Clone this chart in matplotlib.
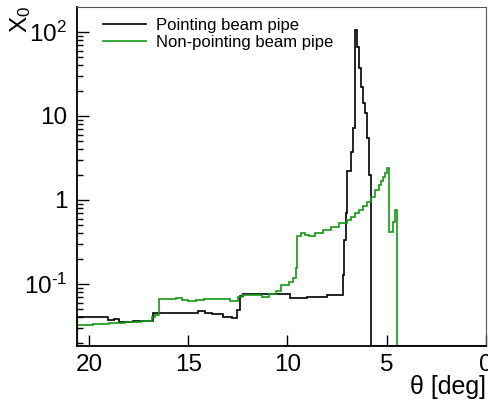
import numpy as np
import matplotlib
matplotlib.use("Agg")
import matplotlib.pyplot as plt
from matplotlib.ticker import FixedLocator, FuncFormatter, LogLocator, NullFormatter, NullLocator

plt.rcParams['font.family'] = ['Liberation Sans', 'DejaVu Sans']
plt.rcParams['mathtext.fontset'] = 'custom'
plt.rcParams['mathtext.rm'] = 'Liberation Sans'
plt.rcParams['mathtext.it'] = 'Liberation Sans:italic'
plt.rcParams['mathtext.bf'] = 'Liberation Sans:bold'

# ---- data (theta in degrees, descending; X0 per bin) ----
pointing_edges = [20.6, 19.35, 19.05, 18.75, 18.5, 17.8, 17.2, 16.75, 15.5, 14.5,
                  14.15, 13.8, 13.25, 12.8, 12.54, 12.39, 12.25, 9.87, 9.0, 8.0,
                  7.22, 7.15, 7.06, 6.99, 6.82, 6.72, 6.61, 6.48, 6.38, 6.30,
                  6.21, 6.10, 6.01, 5.89, 5.81, 0.0]
pointing_x0 = [0.040, 0.0408, 0.0373, 0.0387, 0.0356, 0.0360, 0.0368, 0.0448, 0.0458,
               0.0477, 0.0448, 0.0440, 0.0408, 0.0398, 0.049, 0.072, 0.0754, 0.0685,
               0.0705, 0.0735, 0.128, 0.334, 0.70, 2.2, 3.76, 7.14, 105.7, 66.8, 37.0,
               22.3, 14.2, 10.8, 5.43, 1.98, 0.0]

nonpointing_edges = [20.6, 19.8, 19.0, 18.2, 17.4, 16.8, 16.65, 16.47, 15.6, 15.3,
                     15.0, 14.6, 14.2, 13.9, 13.1, 12.9, 12.5, 12.3, 11.3, 10.95,
                     10.6, 10.35, 9.9, 9.71, 9.59, 9.51, 9.3, 9.1, 8.9, 8.6,
                     8.2, 7.8, 7.4, 7.0, 6.8, 6.6, 6.4, 6.2, 6.0, 5.8,
                     5.6, 5.4, 5.3, 5.2, 5.1, 5.0, 4.87, 4.67, 4.57, 4.49, 0.0]
nonpointing_x0 = [0.0328, 0.0336, 0.0344, 0.0354, 0.0366, 0.040, 0.043, 0.066, 0.0687,
                  0.064, 0.062, 0.064, 0.066, 0.067, 0.066, 0.063, 0.070, 0.0741,
                  0.0706, 0.0761, 0.0834, 0.0973, 0.1065, 0.118, 0.155, 0.37, 0.40,
                  0.385, 0.375, 0.405, 0.44, 0.48, 0.53, 0.58, 0.63, 0.70, 0.77,
                  0.85, 0.95, 1.10, 1.30, 1.50, 1.68, 1.89, 2.12, 2.38, 0.42, 0.55,
                  0.77, 0.0]

series_labels = ["Pointing beam pipe", "Non-pointing beam pipe"]
x_ticks = [0, 5, 10, 15, 20]
y_ticks = [0.1, 1, 10, 100]
y_tick_labels = [r"$10^{\text{-}1}$", "1", "10", r"$10^{2}$"]

XMAX, XMIN = 20.6, 0.0
YMIN, YMAX = 0.0183, 198.0

assert len(pointing_edges) == len(pointing_x0) + 1
assert len(nonpointing_edges) == len(nonpointing_x0) + 1

fig = plt.figure(figsize=(4.89, 4.05), dpi=100)
ax = fig.add_axes([77 / 489, 1 - 346 / 405, (486 - 77) / 489, (346 - 7) / 405])

GREEN = '#179817'
for edges, vals, col, lab in [(pointing_edges, pointing_x0, 'black', series_labels[0]),
                              (nonpointing_edges, nonpointing_x0, GREEN, series_labels[1])]:
    e = np.array(edges[::-1], dtype=float)
    v = np.array(vals[::-1], dtype=float)
    v = np.where(v > 0, v, YMIN)
    ax.stairs(v, e, baseline=YMIN, color=col, lw=1.2, label=lab)

ax.set_yscale('log')
ax.set_xlim(XMAX, XMIN)
ax.set_ylim(YMIN, YMAX)

ax.xaxis.set_major_locator(FixedLocator(x_ticks))
ax.xaxis.set_minor_locator(NullLocator())
ax.yaxis.set_major_locator(FixedLocator(y_ticks))
ax.yaxis.set_major_formatter(FuncFormatter(lambda v, p: y_tick_labels[y_ticks.index(v)] if v in y_ticks else ""))
ax.yaxis.set_minor_locator(LogLocator(base=10, subs=np.arange(2, 10)))
ax.yaxis.set_minor_formatter(NullFormatter())

ax.tick_params(axis='both', which='both', direction='in', top=False, right=False)
ax.tick_params(axis='x', which='major', length=8, width=1.0, labelsize=17.5, pad=6)
ax.tick_params(axis='y', which='major', length=8.5, width=1.0, labelsize=17.5, pad=7)
ax.tick_params(axis='y', which='minor', length=4.5, width=1.0)

for s in ['left', 'bottom']:
    ax.spines[s].set_linewidth(1.3)
    ax.spines[s].set_color('black')
for s in ['top', 'right']:
    ax.spines[s].set_linewidth(0.8)
    ax.spines[s].set_color('#555555')

fig.text(21 / 489, 1 - 6 / 405, r"$\mathrm{X}_{0}$", rotation=90, ha='center', va='top', fontsize=17.5)
fig.text(486 / 489, 1 - 387 / 405, "θ [deg]", ha='right', va='center', fontsize=18)

ax.legend(loc='upper left', bbox_to_anchor=(103 / 489, 1 - 18 / 405), bbox_transform=fig.transFigure,
          frameon=False, fontsize=12, handlelength=2.6, handletextpad=0.6, labelspacing=0.12,
          borderpad=0, borderaxespad=0)

fig.savefig('out.png', dpi=100)
